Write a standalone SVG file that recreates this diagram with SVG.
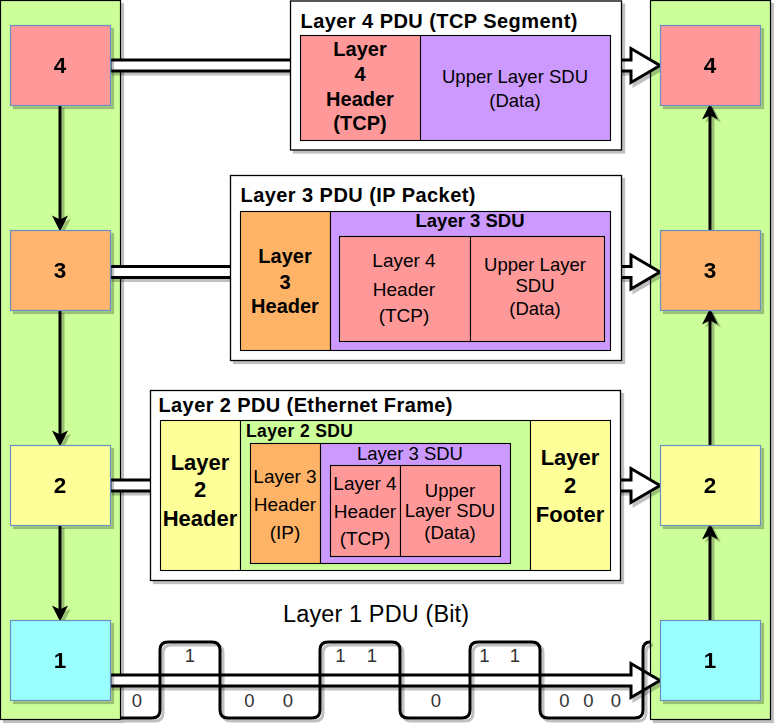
<svg xmlns="http://www.w3.org/2000/svg" width="774" height="727" viewBox="0 0 774 727">
<defs>
<filter id="sh" filterUnits="userSpaceOnUse" x="0" y="0" width="774" height="727">
<feOffset in="SourceAlpha" dx="3" dy="3" result="o"/>
<feComponentTransfer in="o" result="s"><feFuncA type="linear" slope="0.25"/></feComponentTransfer>
<feMerge><feMergeNode in="s"/><feMergeNode in="SourceGraphic"/></feMerge>
</filter>
<marker id="ah" markerUnits="userSpaceOnUse" markerWidth="16" markerHeight="16" viewBox="0 0 14 14" refX="4" refY="7" orient="auto">
<path d="M0,0 L14,7 L0,14 L3.5,7 Z" fill="#000"/>
</marker>
</defs>
<style>
text{font-family:"Liberation Sans",Arial,Helvetica,sans-serif;fill:#000}
.b{font-weight:bold}
.c{text-anchor:middle}
.col{fill:#CCFF99;stroke:#000;stroke-width:1.2}
.node{stroke:#6C8EBF;stroke-width:1.2}
.nl{font-weight:bold;font-size:22.5px;text-anchor:middle}
.pdu{fill:#fff;stroke:#000;stroke-width:1.3}
.in{stroke:#000;stroke-width:1.1}
.flex{fill:#fff;stroke:#000;stroke-width:3;stroke-linejoin:miter}
.vl{stroke:#000;stroke-width:3;fill:none}
.wave{fill:none;stroke:#000;stroke-width:3}
.bit{font-size:18.5px;fill:#333;text-anchor:middle}
.red{fill:#FF9999}.pur{fill:#CC99FF}.org{fill:#FFB366}.yel{fill:#FFFF99}.grn{fill:#CCFF99}
.t20{font-size:20px}.r19{font-size:19px}.r185{font-size:18.5px}
</style>

<g id="columns" filter="url(#sh)">
<rect id="left-stack" class="col" x="0.5" y="0.5" width="120" height="719"/>
<rect id="right-stack" class="col" x="650.5" y="0.5" width="120" height="719"/>
</g>

<g id="connectors">
<g id="pdu-arrows" filter="url(#sh)">
<path class="flex" d="M110,60 H631 V48.5 L660,65.5 L631,82.5 V71 H110 Z"/>
<path class="flex" d="M110,266.5 H631 V255 L660,272 L631,289 V277.5 H110 Z"/>
<path class="flex" d="M110,480 H631 V468.5 L660,485.5 L631,502.5 V491 H110 Z"/>
<path class="flex" d="M110,675 H631 V663.5 L660,680.5 L631,697.5 V686 H110 Z"/>
</g>
<g id="bit-wave" filter="url(#sh)">
<path class="wave" d="M121,718 H152 Q160,718 160,710 V650 Q160,642 168,642 H212 Q220,642 220,650 V710 Q220,718 228,718 H312 Q320,718 320,710 V650 Q320,642 328,642 H392 Q400,642 400,650 V710 Q400,718 408,718 H462 Q470,718 470,710 V650 Q470,642 478,642 H532 Q540,642 540,650 V710 Q540,718 548,718 H635 Q643,718 643,710 V650 Q643,642 650,642"/>
</g>
<g id="layer-arrows" filter="url(#sh)">
<line class="vl" x1="60" y1="105" x2="60" y2="220" marker-end="url(#ah)"/>
<line class="vl" x1="60" y1="310" x2="60" y2="435" marker-end="url(#ah)"/>
<line class="vl" x1="60" y1="525" x2="60" y2="610" marker-end="url(#ah)"/>
<line class="vl" x1="710" y1="620" x2="710" y2="535" marker-end="url(#ah)"/>
<line class="vl" x1="710" y1="445" x2="710" y2="320" marker-end="url(#ah)"/>
<line class="vl" x1="710" y1="230" x2="710" y2="115" marker-end="url(#ah)"/>
</g>
</g>

<g id="bits">
<text class="bit" x="137" y="707">0</text>
<text class="bit" x="190" y="662">1</text>
<text class="bit" y="707"><tspan x="252">0</tspan> <tspan x="288">0</tspan></text>
<text class="bit" y="662"><tspan x="343">1</tspan> <tspan x="372">1</tspan></text>
<text class="bit" x="436" y="707">0</text>
<text class="bit" y="662"><tspan x="487">1</tspan> <tspan x="515">1</tspan></text>
<text class="bit" y="707"><tspan x="567">0</tspan> <tspan x="591">0</tspan> <tspan x="616">0</tspan></text>
</g>

<g id="node-l4" filter="url(#sh)"><rect class="node" x="10.5" y="25.5" width="100" height="80" fill="#FF9999"/><text class="nl" x="60" y="73">4</text></g>
<g id="node-l3" filter="url(#sh)"><rect class="node" x="10.5" y="230.5" width="100" height="80" fill="#FFB570"/><text class="nl" x="60" y="278">3</text></g>
<g id="node-l2" filter="url(#sh)"><rect class="node" x="10.5" y="445.5" width="100" height="80" fill="#FFFF99"/><text class="nl" x="60" y="493">2</text></g>
<g id="node-l1" filter="url(#sh)"><rect class="node" x="10.5" y="620.5" width="100" height="80" fill="#99FFFF"/><text class="nl" x="60" y="668">1</text></g>
<g id="node-r4" filter="url(#sh)"><rect class="node" x="660.5" y="25.5" width="100" height="80" fill="#FF9999"/><text class="nl" x="710" y="73">4</text></g>
<g id="node-r3" filter="url(#sh)"><rect class="node" x="660.5" y="230.5" width="100" height="80" fill="#FFB570"/><text class="nl" x="710" y="278">3</text></g>
<g id="node-r2" filter="url(#sh)"><rect class="node" x="660.5" y="445.5" width="100" height="80" fill="#FFFF99"/><text class="nl" x="710" y="493">2</text></g>
<g id="node-r1" filter="url(#sh)"><rect class="node" x="660.5" y="620.5" width="100" height="80" fill="#99FFFF"/><text class="nl" x="710" y="668">1</text></g>

<g id="pdu-l4">
<rect class="pdu" x="290.5" y="1" width="331" height="149" filter="url(#sh)"/>
<text class="b t20" x="300.5" y="28" textLength="277" lengthAdjust="spacing">Layer 4 PDU (TCP Segment)</text>
<rect class="in red" x="300.5" y="35.5" width="120" height="105"/>
<rect class="in pur" x="420.5" y="35.5" width="190" height="105"/>
<text class="b c t20" x="360" y="56">Layer</text>
<text class="b c t20" x="360" y="81">4</text>
<text class="b c t20" x="360" y="106">Header</text>
<text class="b c t20" x="360" y="130">(TCP)</text>
<text class="c r185" x="515" y="83">Upper Layer SDU</text>
<text class="c r185" x="515" y="107">(Data)</text>
</g>

<g id="pdu-l3">
<rect class="pdu" x="230.5" y="175.5" width="391" height="185" filter="url(#sh)"/>
<text class="b t20" x="240.5" y="202" textLength="235" lengthAdjust="spacing">Layer 3 PDU (IP Packet)</text>
<rect class="in org" x="240.5" y="211.5" width="90" height="139"/>
<rect class="in pur" x="330.5" y="211.5" width="280" height="139"/>
<text class="b c t20" x="285" y="263">Layer</text>
<text class="b c t20" x="285" y="288.5">3</text>
<text class="b c t20" x="285" y="313">Header</text>
<text class="b c r185" x="470" y="227">Layer 3 SDU</text>
<rect class="in red" x="339.5" y="236.5" width="131" height="105" stroke-width="1.6"/>
<rect class="in red" x="470.5" y="236.5" width="134" height="105"/>
<text class="c r19" x="404" y="267">Layer 4</text>
<text class="c r19" x="404" y="296">Header</text>
<text class="c r19" x="404" y="322">(TCP)</text>
<text class="c r185" x="535" y="270.5">Upper Layer</text>
<text class="c r185" x="535" y="291.5">SDU</text>
<text class="c r185" x="535" y="315">(Data)</text>
</g>

<g id="pdu-l2">
<rect class="pdu" x="150.5" y="390.5" width="470" height="190" filter="url(#sh)"/>
<text class="b t20" x="158.5" y="412" textLength="294" lengthAdjust="spacing">Layer 2 PDU (Ethernet Frame)</text>
<rect class="in yel" x="160.5" y="420.5" width="80" height="150"/>
<rect class="in grn" x="240.5" y="420.5" width="290" height="150"/>
<rect class="in yel" x="530.5" y="420.5" width="80" height="150"/>
<text class="b c" font-size="22" x="200" y="470">Layer</text>
<text class="b c" font-size="22" x="200" y="497">2</text>
<text class="b c" font-size="22" x="200" y="525.5">Header</text>
<text class="b c" font-size="22" x="570" y="465">Layer</text>
<text class="b c" font-size="22" x="570" y="493">2</text>
<text class="b c" font-size="22" x="570" y="521.5">Footer</text>
<text class="b" font-size="17.5" x="246" y="437" textLength="107" lengthAdjust="spacing">Layer 2 SDU</text>
<rect class="in org" x="250.5" y="443.5" width="70" height="120"/>
<rect class="in pur" x="320.5" y="443.5" width="190" height="120"/>
<text class="c r185" x="410" y="460">Layer 3 SDU</text>
<rect class="in red" x="330.5" y="465.5" width="70" height="91"/>
<rect class="in red" x="400.5" y="465.5" width="100" height="91"/>
<text class="c r19" x="285" y="483">Layer 3</text>
<text class="c r19" x="285" y="510.5">Header</text>
<text class="c r19" x="285" y="539">(IP)</text>
<text class="c r19" x="365" y="490">Layer 4</text>
<text class="c r19" x="365" y="518">Header</text>
<text class="c r19" x="365" y="545">(TCP)</text>
<text class="c r185" x="450" y="496.5">Upper</text>
<text class="c r185" x="450" y="517">Layer SDU</text>
<text class="c r185" x="450" y="539">(Data)</text>
</g>

<g id="pdu-l1-label">
<text font-size="23.5" x="283" y="622" textLength="186" lengthAdjust="spacing" fill="#222">Layer 1 PDU (Bit)</text>
</g>
</svg>
